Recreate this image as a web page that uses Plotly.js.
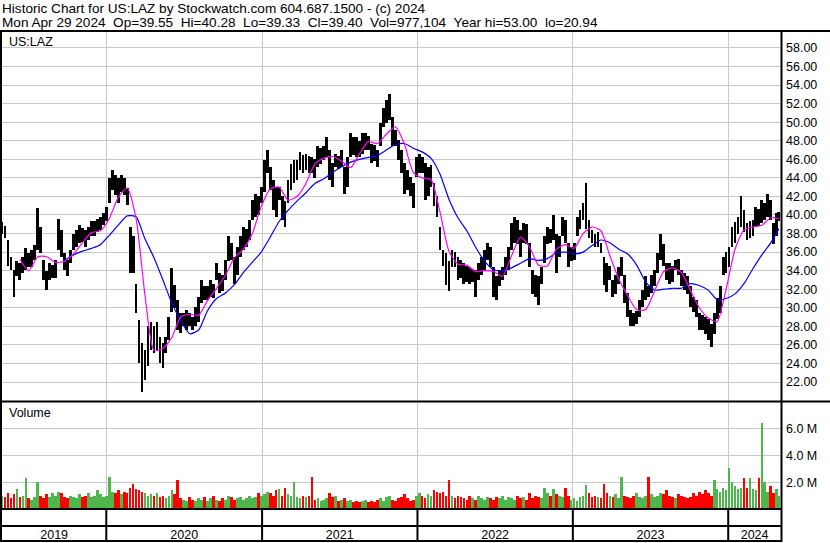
<!DOCTYPE html>
<html><head><meta charset="utf-8">
<script src="https://cdn.plot.ly/plotly-3.0.1.min.js"></script>
<style>html,body{margin:0;padding:0;background:#fff;}#chart{width:830px;height:543px;}</style>
</head><body><div id="chart"></div>
<script>
// ---------------- DATA ----------------
const firstWeek = '2019-05-01';   // centre of the first weekly bar
const lastDay = '2024-04-29';     // last trading day shown
const xStart = '2019-05-01';
const xEnd = '2024-05-04';

// weekly high / low (US:LAZ)
const weekHigh = [
39.2,38.8,37.3,35.5,34.1,35.0,34.8,35.5,36.4,35.9,
36.2,36.8,40.7,38.7,35.1,34.0,34.8,34.6,35.1,39.6,
38.4,35.9,35.1,36.2,38.0,38.4,38.9,38.6,38.4,38.7,
39.3,39.3,39.6,39.8,40.2,40.9,44.0,44.8,44.3,44.0,
44.3,44.0,42.9,38.7,37.7,32.6,28.7,26.2,25.5,28.0,
28.5,28.0,28.5,26.9,26.2,26.9,29.0,34.3,32.5,30.8,
29.4,29.4,29.8,29.4,29.0,30.1,31.2,33.0,32.3,32.3,
33.0,32.6,34.8,33.7,33.5,35.1,37.7,37.0,35.5,36.5,
37.7,38.7,38.5,39.5,41.6,42.3,42.0,43.0,45.9,47.0,
45.2,43.8,43.0,43.0,42.0,41.5,43.8,45.5,45.9,45.9,
46.8,46.5,46.6,46.4,46.3,46.0,47.4,47.2,47.4,48.4,
47.0,45.6,46.6,46.4,47.0,45.2,46.3,48.8,48.4,48.4,
48.0,48.8,48.8,48.5,47.7,47.5,47.0,49.9,51.5,52.4,
53.0,50.6,49.2,48.1,47.0,45.6,44.8,44.1,43.5,46.3,
46.6,46.2,45.6,45.2,45.4,43.5,42.0,38.7,36.2,35.9,
35.0,36.2,36.0,35.5,35.2,34.8,34.5,34.4,34.2,34.1,
34.8,35.5,36.2,37.0,36.5,34.4,33.4,34.1,34.4,35.5,
36.5,39.1,39.8,39.5,38.4,39.1,39.0,37.0,34.1,33.5,
33.4,34.4,37.7,38.7,38.5,40.0,38.0,37.7,39.8,39.5,
37.0,36.5,37.0,39.8,40.5,41.3,43.4,39.5,38.4,38.0,
38.2,37.0,35.5,34.8,34.5,33.0,33.5,34.4,35.5,33.5,
31.6,29.8,29.4,29.6,30.8,31.9,33.4,32.3,33.5,34.1,
35.9,38.0,36.9,34.8,34.8,34.5,35.2,35.3,34.1,33.7,
33.4,32.3,31.2,30.8,29.4,29.2,29.0,28.8,28.3,29.4,
31.0,32.3,35.5,36.0,36.6,38.7,39.2,39.8,42.0,40.5,
39.1,39.3,39.5,40.9,40.6,41.6,41.3,42.3,41.6,39.1,
40.2,40.28];
const weekLow = [
38.0,37.5,34.5,34.1,31.2,33.4,33.0,33.7,34.1,34.4,
34.4,35.2,36.2,35.9,33.0,31.9,33.0,33.2,33.2,36.2,
35.5,34.1,33.4,34.8,36.2,36.6,37.0,37.1,36.6,37.3,
37.7,37.7,38.2,38.4,38.9,39.3,41.3,42.7,42.2,41.3,
42.5,42.2,41.1,33.7,33.7,29.4,24.0,20.94,22.2,23.7,
25.5,25.1,25.5,24.0,23.5,25.1,26.5,29.5,30.0,27.6,
27.3,28.0,27.6,28.0,27.6,28.0,28.5,30.5,30.8,30.8,
31.2,31.0,33.0,31.6,31.8,33.0,35.0,35.1,32.6,33.5,
35.5,36.2,36.5,37.3,39.5,39.8,40.0,41.3,42.5,44.5,
42.7,40.5,39.8,41.6,39.5,38.7,41.3,42.7,43.5,43.8,
44.9,44.5,44.9,44.5,44.5,44.0,45.2,45.5,45.9,46.3,
43.8,43.0,45.2,45.0,45.2,42.3,43.0,46.3,46.5,46.3,
46.3,46.6,47.0,47.0,45.6,45.8,45.2,47.4,49.5,49.9,
50.2,47.4,47.4,45.9,44.5,42.3,42.7,42.0,40.8,44.1,
44.5,44.5,41.6,42.0,43.0,41.0,39.8,36.2,34.5,32.5,
31.8,34.4,34.4,33.0,33.2,32.6,32.8,32.6,32.8,31.2,
33.0,33.5,34.1,35.2,34.4,31.2,30.8,32.3,33.0,33.5,
34.1,36.2,37.0,36.9,35.5,37.0,36.9,34.4,31.5,31.2,
30.3,32.6,34.8,36.9,37.0,37.3,33.7,35.5,37.7,37.0,
34.4,35.0,35.2,37.7,38.5,39.5,38.5,37.5,37.0,36.6,
36.5,35.9,32.5,31.7,33.0,31.2,31.5,32.6,33.4,30.5,
29.0,28.0,28.0,28.2,29.0,30.1,30.8,31.2,31.6,32.3,
33.7,35.2,34.5,33.0,32.6,32.8,34.1,33.5,32.3,31.9,
31.5,30.1,29.5,29.0,27.6,27.6,27.2,26.5,25.8,27.2,
28.8,29.4,33.5,33.8,34.4,36.6,37.0,38.0,38.7,38.2,
37.3,37.5,37.7,38.7,38.8,39.1,39.5,39.8,39.5,36.9,
37.7,39.33];
// volume, millions of shares
const weekVolumeM = [
1.0,0.9,1.2,0.8,1.1,1.5,0.9,1.0,2.3,0.8,
0.7,0.9,2.0,1.0,0.8,1.1,0.9,1.2,1.0,1.3,
1.2,0.9,0.8,1.0,0.9,0.8,1.1,0.9,1.0,1.2,
0.9,1.0,1.4,1.1,0.9,1.0,2.4,1.3,1.2,1.4,
1.1,1.3,1.2,1.6,1.9,1.5,1.4,1.3,1.2,1.0,
1.1,1.0,1.2,0.9,1.0,0.8,1.0,1.4,1.1,2.2,
0.8,0.7,0.6,0.9,0.7,0.6,0.8,0.7,0.9,0.6,
0.8,1.0,0.7,0.6,0.8,0.7,1.0,0.9,0.7,0.8,
0.9,0.7,0.8,1.0,0.8,0.9,1.2,1.0,1.1,1.3,
1.2,1.0,1.4,1.5,1.0,1.6,1.1,1.0,2.0,0.9,
0.8,1.0,0.9,1.0,2.4,0.7,0.8,0.6,0.7,0.8,
1.2,0.9,1.0,0.6,0.7,0.8,0.6,0.7,0.5,0.6,
0.5,0.6,0.7,0.5,0.6,0.5,0.7,0.8,0.6,0.9,
1.0,0.7,0.6,0.8,0.9,1.1,0.8,0.6,0.7,1.0,
1.2,1.0,0.8,1.1,1.0,1.4,1.3,1.2,1.3,1.0,
2.2,1.0,0.8,1.0,0.9,0.8,0.7,1.0,0.8,0.7,
1.0,0.8,0.7,0.9,0.8,0.7,0.9,0.8,1.0,0.7,
0.9,0.8,0.7,1.0,0.8,0.9,0.7,1.2,0.8,1.0,
0.9,0.8,1.6,1.2,1.0,1.5,1.1,1.0,0.9,1.6,
1.0,0.7,0.8,0.6,0.9,1.0,1.8,1.2,0.9,1.0,
0.9,0.8,1.9,1.2,1.0,0.9,1.1,0.8,2.4,1.0,
0.9,0.8,1.0,1.2,0.9,0.8,1.0,2.4,1.1,0.9,
1.0,1.2,1.1,1.4,1.0,0.9,0.8,1.1,1.0,0.9,
0.8,0.9,1.2,1.0,1.3,1.1,1.4,1.2,1.0,2.2,
1.5,1.3,1.6,1.4,3.1,2.0,1.7,1.5,1.6,2.3,
1.6,2.3,1.5,1.4,2.3,6.4,2.0,1.3,1.7,1.2,
1.5,1.0];
// moving averages, one reading every third week
const maFastFirstWeek = 6;
const maSlowFirstWeek = 21;
const maEvery = 3;
const maFast = [
35.2,34.0,35.5,35.5,34.9,35.0,35.8,37.0,38.1,38.3,
39.6,41.9,42.9,39.6,31.3,25.4,25.6,26.8,29.0,29.3,
29.2,30.8,32.1,33.5,35.4,36.3,38.0,40.9,42.8,43.0,
41.6,42.0,43.4,45.5,46.1,46.3,45.8,45.1,46.6,47.9,
47.7,48.7,49.5,47.7,44.6,44.0,43.8,40.3,36.1,34.7,
34.6,33.9,34.0,33.9,33.4,35.6,37.6,36.6,34.6,34.5,
36.3,36.8,36.4,38.0,38.7,38.3,35.6,33.1,31.3,29.8,
29.8,31.8,33.9,34.3,33.8,31.9,30.0,28.9,28.5,32.0,
36.3,38.4,38.7,38.9,39.7,39.6];
const maSlow = [
35.1,35.7,36.1,36.4,36.8,37.8,38.9,39.9,39.8,37.4,
35.4,33.0,30.5,28.6,27.2,27.6,29.7,31.0,31.6,32.5,
33.8,34.9,36.0,37.6,39.3,40.5,41.5,42.4,43.4,43.9,
44.6,45.2,45.7,46.0,46.2,46.4,47.0,47.6,47.7,47.2,
46.8,46.1,44.4,41.7,39.7,38.3,36.5,35.0,34.1,34.0,
34.3,34.8,35.3,35.1,35.3,35.9,36.0,35.8,36.0,36.7,
37.3,37.0,36.3,35.8,34.6,32.8,31.9,32.0,32.1,32.1,
32.6,32.4,31.9,30.9,31.0,31.5,32.6,34.2,35.7,37.0,
38.5];
const yearStarts = ['2020-01-01','2021-01-01','2022-01-01','2023-01-01','2024-01-01'];
const yearLabels = ['2019','2020','2021','2022','2023','2024'];
const volTickVals = [2e6, 4e6, 6e6];
const volTickText = ['2.0 M', '4.0 M', '6.0 M'];
const titleLine1 = 'Historic Chart for US:LAZ by Stockwatch.com 604.687.1500 - (c) 2024';
const titleLine2 = 'Mon Apr 29 2024\u00a0\u00a0Op=39.55\u00a0\u00a0Hi=40.28\u00a0\u00a0Lo=39.33\u00a0\u00a0Cl=39.40\u00a0\u00a0Vol=977,104\u00a0\u00a0Year hi=53.00\u00a0\u00a0lo=20.94';
const symbolLabel = 'US:LAZ';
const volumeLabel = 'Volume';

// ---------------- BUILD ----------------
const DAY = 864e5;
const fmt = ms => { const s = new Date(ms).toISOString(); return s.slice(0,10) + ' ' + s.slice(11,16); };
const weekDates = [];
const d0 = Date.parse(firstWeek + 'T00:00:00Z');
for (let k = 0; k < weekHigh.length - 1; k++) weekDates.push(fmt(d0 + k * 7 * DAY));
weekDates.push(lastDay);

const fastX = maFast.map((v, i) => weekDates[maFastFirstWeek + i * maEvery]);
const slowX = maSlow.map((v, i) => weekDates[maSlowFirstWeek + i * maEvery]);

const mid = weekHigh.map((h, i) => (h + weekLow[i]) / 2);
const volColors = mid.map((m, i) => (i === 0 || m >= mid[i - 1]) ? '#4db64d' : '#ff0000');

// year label positions: centre of the visible part of each year
const rs = Date.parse(xStart + 'T00:00:00Z'), re = Date.parse(xEnd + 'T00:00:00Z');
const bounds = [rs].concat(yearStarts.map(s => Date.parse(s + 'T00:00:00Z'))).concat([re]);
const labelPos = yearLabels.map((y, i) => fmt((bounds[i] + bounds[i + 1]) / 2));

const FONT = 'Arial, "Liberation Sans", sans-serif';
const GRID = '#c8c8c8';

const traces = [
  { type: 'bar', x: weekDates, y: weekHigh.map((h, i) => h - weekLow[i]), base: weekLow,
    width: 6.6 * DAY, marker: { color: '#000', line: { width: 0 } }, xaxis: 'x', yaxis: 'y', hoverinfo: 'skip' },
  { type: 'scatter', mode: 'lines', x: slowX, y: maSlow, line: { color: '#0000ff', width: 1.2, shape: 'spline', smoothing: 0.6 },
    xaxis: 'x', yaxis: 'y', hoverinfo: 'skip' },
  { type: 'scatter', mode: 'lines', x: fastX, y: maFast, line: { color: '#ff00ff', width: 1.2, shape: 'spline', smoothing: 0.6 },
    xaxis: 'x', yaxis: 'y', hoverinfo: 'skip' },
  { type: 'bar', x: weekDates, y: weekVolumeM.map(v => v * 1e6), width: 6.3 * DAY,
    marker: { color: volColors, line: { width: 0 } }, xaxis: 'x2', yaxis: 'y2', hoverinfo: 'skip' }
];

// pixel helpers for frame lines (plot area x 2..781, y 32..541)
const W = 830, H = 543, ML = 2, MR = 49, MT = 32, MB = 2;
const PW = W - ML - MR, PH = H - MT - MB;
const px = x => (x - ML) / PW;
const py = y => (H - MB - y) / PH;
const hline = (y, x0, x1) => ({ type: 'line', xref: 'paper', yref: 'paper', x0: px(x0), x1: px(x1), y0: py(y), y1: py(y), line: { color: '#000', width: 2 } });
const vline = (x, y0, y1) => ({ type: 'line', xref: 'paper', yref: 'paper', x0: px(x), x1: px(x), y0: py(y0), y1: py(y1), line: { color: '#000', width: 2 } });

const shapes = [
  hline(31, 0, 830), hline(401.5, 0, 830), hline(509, 0, 782), hline(526, 0, 782), hline(541, 0, 782),
  vline(1, 31, 542), vline(781.5, 31, 542)
].concat(yearStarts.map(d => ({ type: 'line', xref: 'x', yref: 'paper', x0: d, x1: d, y0: py(541), y1: py(509), line: { color: '#000', width: 2 } })));

const layout = {
  width: W, height: H,
  margin: { l: ML, r: MR, t: MT, b: MB },
  paper_bgcolor: '#fff', plot_bgcolor: '#fff',
  showlegend: false, bargap: 0,
  font: { family: FONT, size: 12.5, color: '#000' },
  xaxis: { type: 'date', range: [xStart, xEnd], anchor: 'y', tickmode: 'array', tickvals: yearStarts,
    showticklabels: false, showgrid: true, gridcolor: GRID, gridwidth: 1, zeroline: false, showline: false, ticks: '' },
  yaxis: { domain: [py(400), 1], side: 'right', range: [20.06, 59.72], tickmode: 'linear', tick0: 0, dtick: 2,
    tickformat: '.2f', showgrid: true, gridcolor: GRID, zeroline: false, showline: false, ticks: '',
    ticklabelstandoff: 4, tickfont: { size: 12.5 } },
  xaxis2: { type: 'date', matches: 'x', anchor: 'y2', tickmode: 'array', tickvals: labelPos, ticktext: yearLabels,
    showgrid: false, zeroline: false, showline: false, ticks: '', ticklabelstandoff: 16,
    minor: { tickmode: 'array', tickvals: yearStarts, showgrid: true, gridcolor: GRID, gridwidth: 1, ticks: '' },
    tickfont: { size: 12.5 } },
  yaxis2: { domain: [py(509), py(402)], side: 'right', range: [0, 8.0e6], tickmode: 'array',
    tickvals: volTickVals, ticktext: volTickText, showgrid: true, gridcolor: GRID, zeroline: false,
    showline: false, ticks: '', ticklabelstandoff: 4, tickfont: { size: 12.5 } },
  shapes: shapes,
  annotations: [
    { text: titleLine1, xref: 'paper', yref: 'paper', x: px(1), y: py(8.5), xanchor: 'left', yanchor: 'middle',
      showarrow: false, font: { size: 13.6 }, borderpad: 0 },
    { text: titleLine2, xref: 'paper', yref: 'paper', x: px(1), y: py(22), xanchor: 'left', yanchor: 'middle',
      showarrow: false, font: { size: 13.6 }, borderpad: 0 },
    { text: symbolLabel, xref: 'paper', yref: 'paper', x: px(7), y: py(42), xanchor: 'left', yanchor: 'middle',
      showarrow: false, font: { size: 12.5 } },
    { text: volumeLabel, xref: 'paper', yref: 'paper', x: px(7), y: py(413), xanchor: 'left', yanchor: 'middle',
      showarrow: false, font: { size: 12.5 } }
  ]
};

Plotly.newPlot('chart', traces, layout, { staticPlot: true, displayModeBar: false });
</script>
</body></html>
